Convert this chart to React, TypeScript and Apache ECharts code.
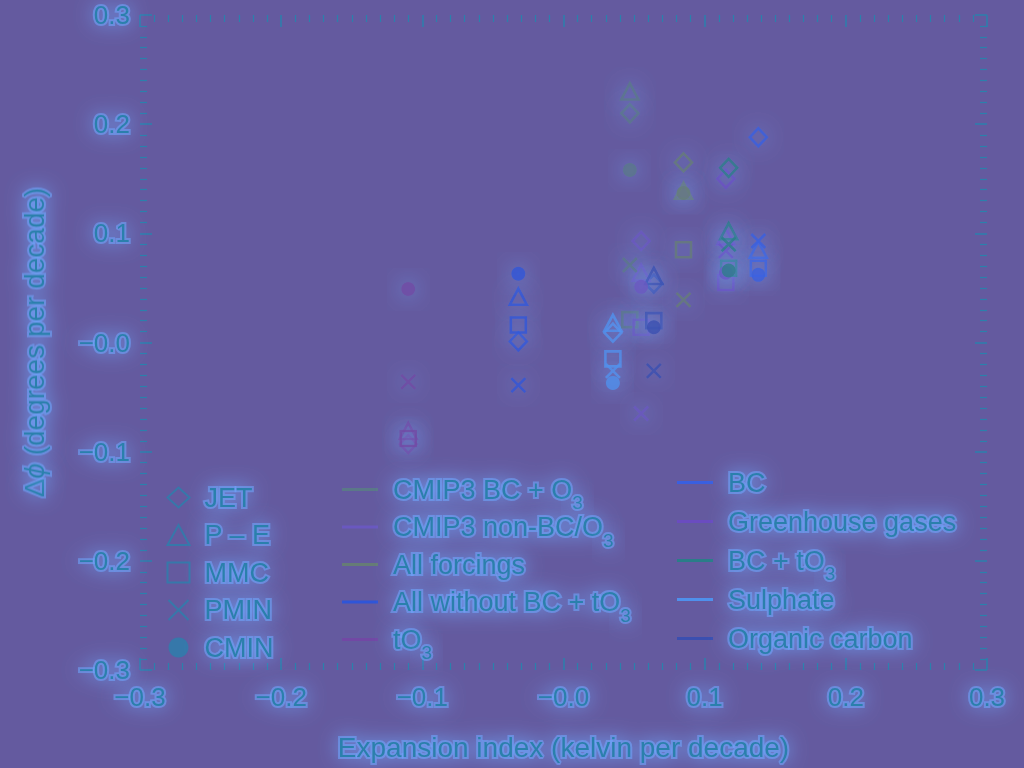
import React, { useEffect, useRef } from "react";
import * as echarts from "echarts";

// Tick labels
const xTickLabels = ["−0.3", "−0.2", "−0.1", "−0.0", "0.1", "0.2", "0.3"];
const yTickLabels = ["−0.3", "−0.2", "−0.1", "−0.0", "0.1", "0.2", "0.3"];

// Forcings (one colour each)
const forcings = [
  "CMIP3 BC + O3",
  "CMIP3 non-BC/O3",
  "All forcings",
  "All without BC + tO3",
  "tO3",
  "BC",
  "Greenhouse gases",
  "BC + tO3",
  "Sulphate",
  "Organic carbon",
];
const forcingColors = [
  "#5b7888", "#6a58c0", "#667c76", "#2f55d8", "#7248a4",
  "#3a5fe0", "#6a4cc0", "#2a7d88", "#4f90ec", "#3b4fb0",
];
// Expansion index per forcing (x)
const expansion = [0.047, 0.055, 0.085, -0.032, -0.11, 0.138, 0.115, 0.117, 0.035, 0.064];

// Metrics (shape) values per forcing (y)
const metrics = ["JET", "P – E", "MMC", "PMIN", "CMIN"];
const jet = [0.21, 0.093, 0.165, 0.001, -0.093, 0.188, 0.15, 0.16, 0.009, 0.054];
const pe = [0.23, 0.064, 0.139, 0.042, -0.081, 0.085, 0.097, 0.102, 0.018, 0.061];
const mmc = [0.021, 0.014, 0.085, 0.016, -0.088, 0.068, 0.055, 0.068, -0.015, 0.02];
const pmin = [0.071, -0.065, 0.039, -0.039, -0.036, 0.093, 0.084, 0.09, -0.026, -0.026];
const cmin = [0.158, 0.051, 0.137, 0.063, 0.049, 0.062, 0.064, 0.066, -0.037, 0.014];

const metricValues = [jet, pe, mmc, pmin, cmin];
const crossPath = "path://M0,0L10,10M10,0L0,10";
const metricSymbols = ["diamond", "triangle", "rect", crossPath, "circle"];
const metricSizes = [[17, 18], [17, 16], [15, 15], [14, 14], [14, 14]];
const metricFilled = [false, false, false, false, true];

const BG = "#645a9f";
const INK = "#2b80ac";
const GLOW = "#6fa8ff";
const FONT = "Liberation Sans, Arial, Helvetica, sans-serif";

const glowText = {
  textShadowColor: GLOW,
  textShadowBlur: 20,
  textBorderColor: "rgba(111,168,255,0.55)",
  textBorderWidth: 4,
};

export default function App() {
  const ref = useRef<HTMLDivElement>(null);
  useEffect(() => {
    if (!ref.current) return;
    const chart = echarts.init(ref.current, undefined, { renderer: "svg" });

    // subscript 3 in ozone names; an empty subscript keeps row heights equal
    const subFmt = (name: string) =>
      /O3$/.test(name) ? name.replace(/O3$/, "O{sub|3}") : name + "{sub| }";
    const richSub = {
      sub: {
        fontSize: 19, lineHeight: 2, height: 2, verticalAlign: "bottom",
        color: INK, fontFamily: FONT, ...glowText,
      },
    };

    const axisCommon = (isX: boolean, main: boolean) => ({
      min: -0.3,
      max: 0.3,
      interval: 0.1,
      type: "value",
      axisLine: { show: true, onZero: false, lineStyle: { color: INK, width: 2, shadowColor: GLOW, shadowBlur: 16 } },
      axisTick: { show: true, inside: true, length: 12, lineStyle: { color: INK, width: 1.5 } },
      minorTick: { show: true, splitNumber: 10, length: 7, lineStyle: { color: INK, width: 1.2 } },
      splitLine: { show: false },
      axisLabel: {
        show: main,
        color: INK,
        fontSize: 26,
        fontFamily: FONT,
        margin: isX ? 14 : 10,
        ...glowText,
        formatter: (_v: number, i: number) => (isX ? xTickLabels[i] : yTickLabels[i]),
      },
    });

    const series: any[] = [];
    metrics.forEach((m, mi) => {
      const data = metricValues[mi].map((y, fi) => ({
        value: [expansion[fi], y],
        itemStyle: metricFilled[mi]
          ? { color: forcingColors[fi], borderWidth: 0 }
          : { color: "none", borderColor: forcingColors[fi], borderWidth: 2.6 },
      }));
      series.push({
        name: m,
        type: "scatter",
        symbol: metricSymbols[mi],
        symbolSize: metricSizes[mi],
        data,
        itemStyle: metricFilled[mi]
          ? { color: INK, borderWidth: 0, shadowColor: GLOW, shadowBlur: 22 }
          : { color: "none", borderColor: INK, borderWidth: 2.6, shadowColor: GLOW, shadowBlur: 22 },
        z: 3,
      });
    });
    forcings.forEach((f, fi) => {
      series.push({
        name: f,
        type: "line",
        data: [],
        symbol: "none",
        lineStyle: { color: forcingColors[fi], width: 3 },
        itemStyle: { color: forcingColors[fi] },
      });
    });

    const legendText = {
      color: INK,
      fontSize: 27,
      lineHeight: 28,
      fontFamily: FONT,
      ...glowText,
      rich: richSub,
    };

    chart.setOption({
      animation: false,
      backgroundColor: BG,
      grid: { left: 140, right: 37, top: 14, bottom: 98, containLabel: false },
      xAxis: [
        {
          ...axisCommon(true, true),
          position: "bottom",
          name: "Expansion index (kelvin per decade)",
          nameLocation: "middle",
          nameGap: 63,
          nameTextStyle: { color: INK, fontSize: 28, fontFamily: FONT, ...glowText },
        },
        { ...axisCommon(true, false), position: "top" },
      ],
      yAxis: [
        {
          ...axisCommon(false, true),
          position: "left",
          name: "Δ{i|ϕ} (degrees per decade)",
          nameLocation: "middle",
          nameGap: 92,
          nameTextStyle: {
            color: INK, fontSize: 28, fontFamily: FONT, ...glowText,
            rich: { i: { fontStyle: "italic", fontSize: 28, color: INK, fontFamily: FONT, ...glowText } },
          },
        },
        { ...axisCommon(false, false), position: "right" },
      ],
      legend: [
        {
          data: metrics,
          orient: "vertical",
          left: 160,
          top: 477,
          itemWidth: 22,
          itemHeight: 20,
          itemGap: 6.5,
          textStyle: { ...legendText, padding: [0, 0, 0, 10] },
          selectedMode: false,
        },
        {
          data: forcings.slice(0, 5),
          orient: "vertical",
          left: 337,
          top: 469,
          icon: "rect",
          itemWidth: 36,
          itemHeight: 3,
          itemGap: -2.5,
          formatter: subFmt,
          textStyle: { ...legendText, padding: [0, 0, 0, 10] },
          selectedMode: false,
        },
        {
          data: forcings.slice(5),
          orient: "vertical",
          left: 672,
          top: 462,
          icon: "rect",
          itemWidth: 36,
          itemHeight: 3,
          itemGap: -1,
          formatter: subFmt,
          textStyle: { ...legendText, padding: [0, 0, 0, 10] },
          selectedMode: false,
        },
      ],
      series,
    });
    return () => chart.dispose();
  }, []);
  return (
    <div
      ref={ref}
      style={{ position: "absolute", left: 0, top: 0, width: 1024, height: 768 }}
    />
  );
}
